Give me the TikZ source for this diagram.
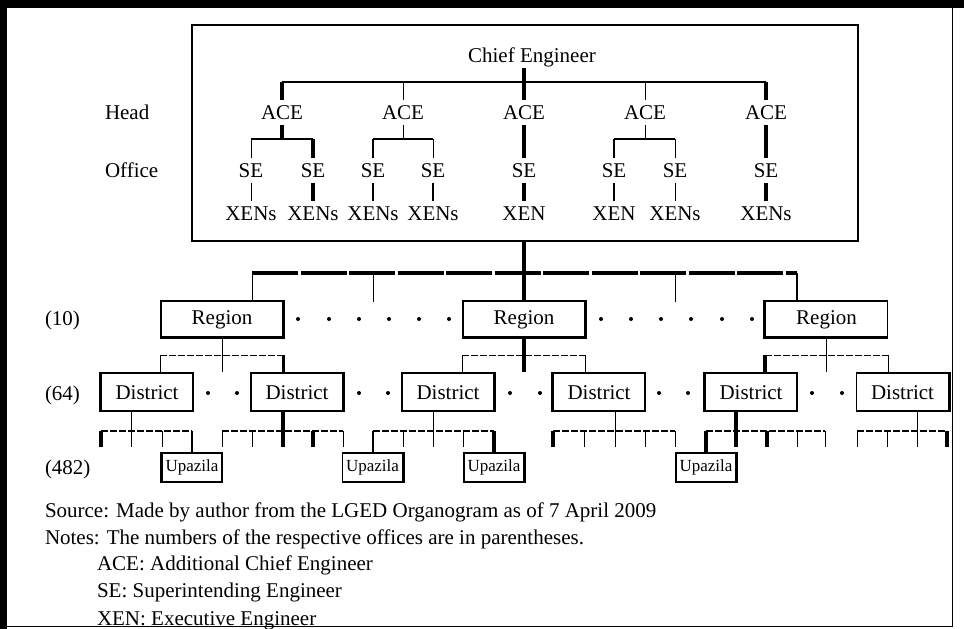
\documentclass[tikz,border=0pt]{standalone}
\usepackage{fontspec}
\setmainfont{Liberation Serif}

\begin{document}
\begin{tikzpicture}[x=1pt,y=-1pt,
	txt/.style={inner sep=0pt,outer sep=5.5pt,text height=14pt,text depth=0pt,font=\fontsize{21}{25}\selectfont},
	note/.style={inner sep=0pt,outer sep=0pt,anchor=base west,font=\fontsize{21}{25}\selectfont},
	regbox/.style={draw,line width=1.1pt,minimum width=122pt,minimum height=36pt,inner sep=0pt,text height=14pt,text depth=4pt,font=\fontsize{21}{25}\selectfont},
	distbox/.style={draw,line width=1.1pt,minimum width=92pt,minimum height=38pt,inner sep=0pt,text height=14pt,text depth=0pt,font=\fontsize{21}{25}\selectfont},
	upbox/.style={draw,line width=1.1pt,minimum width=60pt,minimum height=29pt,inner sep=0pt,text height=11.5pt,text depth=3.5pt,font=\fontsize{17}{20}\selectfont},
	fine/.style={line width=1pt},
	mid/.style={line width=2pt},
	heavy/.style={line width=3.5pt},
	shade/.style={line width=3pt},
	broken/.style={dash pattern=on 7pt off 2pt},
	mainbar/.style={line width=3.5pt,dash pattern=on 46pt off 2.5pt}]

		\useasboundingbox (0,0) rectangle (964,629);
		\fill (0,0) rectangle (964,7.5);
		\fill (0,0) rectangle (7,629);
		\draw[line width=1.2pt] (7,626.5) -- (952.5,626.5) -- (952.5,7);

		% head office
		\node[draw,line width=1.1pt,minimum width=666pt,minimum height=216pt] (hq) at (525,133) {};
		\node[txt,anchor=base] (ce) at (532,62.7) {Chief Engineer};
		\node[note] (head) at (105,119) {Head};
		\node[note] (office) at (105,177.5) {Office};

		\node[txt,anchor=base] (ace1) at (282,119) {ACE};
		\node[txt,anchor=base] (ace2) at (403,119) {ACE};
		\node[txt,anchor=base] (ace3) at (524,119) {ACE};
		\node[txt,anchor=base] (ace4) at (645,119) {ACE};
		\node[txt,anchor=base] (ace5) at (766,119) {ACE};

		\node[txt,anchor=base] (se1) at (251,177.5) {SE};
		\node[txt,anchor=base] (se2) at (313,177.5) {SE};
		\node[txt,anchor=base] (se3) at (373,177.5) {SE};
		\node[txt,anchor=base] (se4) at (433,177.5) {SE};
		\node[txt,anchor=base] (se5) at (524,177.5) {SE};
		\node[txt,anchor=base] (se6) at (614,177.5) {SE};
		\node[txt,anchor=base] (se7) at (675,177.5) {SE};
		\node[txt,anchor=base] (se8) at (766,177.5) {SE};

		\node[txt,anchor=base] (xen1) at (251,220) {XENs};
		\node[txt,anchor=base] (xen2) at (313,220) {XENs};
		\node[txt,anchor=base] (xen3) at (373,220) {XENs};
		\node[txt,anchor=base] (xen4) at (433,220) {XENs};
		\node[txt,anchor=base] (xen5) at (524,220) {XEN};
		\node[txt,anchor=base] (xen6) at (614,220) {XEN};
		\node[txt,anchor=base] (xen7) at (675,220) {XENs};
		\node[txt,anchor=base] (xen8) at (766,220) {XENs};

		\coordinate (bar0) at (0,82);
		\coordinate (bar1) at (0,139);

		\draw[heavy] (ace3 |- ce.south) -- (ace3 |- bar0);
		\draw[mid] (ace1 |- bar0) -- (ace5 |- bar0);
		\draw[heavy] (ace1 |- bar0) -- (ace1.north);
		\draw[fine] (ace2 |- bar0) -- (ace2.north);
		\draw[heavy] (ace3 |- bar0) -- (ace3.north);
		\draw[fine] (ace4 |- bar0) -- (ace4.north);
		\draw[heavy] (ace5 |- bar0) -- (ace5.north);

		\draw[heavy] (ace1.south) -- (ace1 |- bar1);
		\draw[mid] (se1 |- bar1) -- (se2 |- bar1);
		\draw[fine] (se1 |- bar1) -- (se1.north);
		\draw[heavy] (se2 |- bar1) -- (se2.north);
		\draw[fine] (ace2.south) -- (ace2 |- bar1);
		\draw[mid] (se3 |- bar1) -- (se4 |- bar1);
		\draw[mid] (se3 |- bar1) -- (se3.north);
		\draw[fine] (se4 |- bar1) -- (se4.north);
		\draw[heavy] (ace3.south) -- (se5.north);
		\draw[fine] (ace4.south) -- (ace4 |- bar1);
		\draw[mid] (se6 |- bar1) -- (se7 |- bar1);
		\draw[mid] (se6 |- bar1) -- (se6.north);
		\draw[fine] (se7 |- bar1) -- (se7.north);
		\draw[heavy] (ace5.south) -- (se8.north);

		\draw[fine] (se1.south) -- (xen1.north);
		\draw[heavy] (se2.south) -- (xen2.north);
		\draw[mid] (se3.south) -- (xen3.north);
		\draw[mid] (se4.south) -- (xen4.north);
		\draw[heavy] (se5.south) -- (xen5.north);
		\draw[mid] (se6.south) -- (xen6.north);
		\draw[fine] (se7.south) -- (xen7.north);
		\draw[heavy] (se8.south) -- (xen8.north);

		% regions
		\node[note] (n10) at (45,325) {(10)};
		\node[regbox] (r1) at (222,319) {Region};
		\node[regbox] (r2) at (524,319) {Region};
		\node[regbox] (r3) at (826.5,319) {Region};
		\draw[shade] (r1.north east) -- (r1.south east) -- (r1.south west);
		\draw[shade] (r2.north east) -- (r2.south east) -- (r2.south west);
		\draw[shade] (r3.north west) -- (r3.south west) -- (r3.south east);

		\coordinate (bar2) at (0,273);
		\coordinate (r1in) at ([xshift=30pt]r1.north);
		\coordinate (r3in) at ([xshift=-29.5pt]r3.north);
		\coordinate (g1) at (373,302);
		\coordinate (g2) at (675,302);

		\draw[heavy] (r2 |- hq.south) -- (r2.north);
		\draw[mainbar] (r1in |- bar2) -- (r3in |- bar2);
		\draw[fine] (r1in |- bar2) -- (r1in);
		\draw[fine] (g1 |- bar2) -- (g1);
		\draw[fine] (g2 |- bar2) -- (g2);
		\draw[mid] (r3in |- bar2) -- (r3in);

		\fill (298,319) circle (2) (329,319) circle (2) (359,319) circle (2)
			(389,319) circle (2) (419,319) circle (2) (449,319) circle (2);
		\fill (601,319) circle (2) (631,319) circle (2) (661,319) circle (2)
			(691,319) circle (2) (722,319) circle (2) (752,319) circle (2);

		% districts
		\node[note] (n64) at (45,400) {(64)};
		\node[distbox] (d1) at (147,392) {District};
		\node[distbox] (d2) at (297,392) {District};
		\node[distbox] (d3) at (448,392) {District};
		\node[distbox] (d4) at (599,392) {District};
		\node[distbox] (d5) at (751,392) {District};
		\node[distbox] (d6) at (902.5,392) {District};
		\draw[shade] (d1.north west) -- (d1.south west);
		\draw[shade] (d2.north east) -- (d2.south east);
		\draw[shade] (d3.north east) -- (d3.south east);
		\draw[shade] (d4.north west) -- (d4.south west);
		\draw[shade] (d5.north west) -- (d5.south west);
		\draw[shade] (d6.north east) -- (d6.south east);

		\coordinate (bar3) at (0,355);
		\draw[fine] (r1.south) -- (r1 |- d1.north);
		\draw[fine,broken] (r1.south west |- bar3) -- (r1.south east |- bar3);
		\draw[fine] (r1.south west |- bar3) -- (r1.south west |- d1.north);
		\draw[heavy] (r1.south east |- bar3) -- (r1.south east |- d2.north);
		\draw[heavy] (r2.south) -- (r2 |- d3.north);
		\draw[fine,broken] (r2.south west |- bar3) -- (r2.south east |- bar3);
		\draw[fine] (r2.south west |- bar3) -- (r2.south west |- d3.north);
		\draw[fine] (r2.south east |- bar3) -- (r2.south east |- d4.north);
		\draw[fine] (r3.south) -- (r3 |- d5.north);
		\draw[fine,broken] (r3.south west |- bar3) -- (r3.south east |- bar3);
		\draw[heavy] (r3.south west |- bar3) -- (r3.south west |- d5.north);
		\draw[fine] (r3.south east |- bar3) -- (r3.south east |- d6.north);

		\fill (208,393) circle (2) (237,393) circle (2);
		\fill (359,393) circle (2) (388,393) circle (2);
		\fill (510,393) circle (2) (540,393) circle (2);
		\fill (659,393) circle (2) (688,393) circle (2);
		\fill (812,393) circle (2) (842,393) circle (2);

		% upazilas
		\node[note] (n482) at (45,474) {(482)};
		\node[upbox] (u1) at (192,467.5) {Upazila};
		\node[upbox] (u2) at (372.5,467.5) {Upazila};
		\node[upbox] (u3) at (494,467.5) {Upazila};
		\node[upbox] (u4) at (706,467.5) {Upazila};
		\draw[shade] (u1.north west) -- (u1.south west);
		\draw[shade] (u2.north east) -- (u2.south east);
		\draw[shade] (u3.north east) -- (u3.south east);
		\draw[shade] (u4.north east) -- (u4.south east);

		\coordinate (bar4) at (0,431);
		\coordinate (d1a) at (101,447);
		\coordinate (d1b) at (131,447);
		\coordinate (d1c) at (162,447);
		\coordinate (d2a) at (222,447);
		\coordinate (d2b) at (252,447);
		\coordinate (d2c) at (283,447);
		\coordinate (d2d) at (313,447);
		\coordinate (d2e) at (343,447);
		\coordinate (d3b) at (403,447);
		\coordinate (d3c) at (433,447);
		\coordinate (d3d) at (463,447);
		\coordinate (d4a) at (553,447);
		\coordinate (d4b) at (584,447);
		\coordinate (d4c) at (615,447);
		\coordinate (d4d) at (645,447);
		\coordinate (d4e) at (675,447);
		\coordinate (d5b) at (736,447);
		\coordinate (d5c) at (767,447);
		\coordinate (d5d) at (797,447);
		\coordinate (d5e) at (825,447);
		\coordinate (d6a) at (857,447);
		\coordinate (d6b) at (887,447);
		\coordinate (d6c) at (917,447);
		\coordinate (d6d) at (947,447);

		\draw[mid,broken] (d1a |- bar4) -- (u1 |- bar4);
		\draw[fine] (d1b |- d1.south) -- (d1b);
		\draw[heavy] (d1a |- bar4) -- (d1a);
		\draw[fine] (d1c |- bar4) -- (d1c);
		\draw[mid] (u1 |- bar4) -- (u1.north);

		\draw[mid,broken] (d2a |- bar4) -- (d2e |- bar4);
		\draw[heavy] (d2c |- d2.south) -- (d2c);
		\draw[fine] (d2a |- bar4) -- (d2a);
		\draw[fine] (d2b |- bar4) -- (d2b);
		\draw[heavy] (d2d |- bar4) -- (d2d);
		\draw[fine] (d2e |- bar4) -- (d2e);

		\draw[mid,broken] (u2 |- bar4) -- (u3 |- bar4);
		\draw[fine] (d3c |- d3.south) -- (d3c);
		\draw[mid] (u2 |- bar4) -- (u2.north);
		\draw[fine] (d3b |- bar4) -- (d3b);
		\draw[fine] (d3d |- bar4) -- (d3d);
		\draw[heavy] (u3 |- bar4) -- (u3.north);

		\draw[mid,broken] (d4a |- bar4) -- (d4e |- bar4);
		\draw[fine] (d4c |- d4.south) -- (d4c);
		\draw[heavy] (d4a |- bar4) -- (d4a);
		\draw[fine] (d4b |- bar4) -- (d4b);
		\draw[fine] (d4d |- bar4) -- (d4d);
		\draw[fine] (d4e |- bar4) -- (d4e);

		\draw[mid,broken] (u4 |- bar4) -- (d5e |- bar4);
		\draw[heavy] (d5b |- d5.south) -- (d5b);
		\draw[heavy] (u4 |- bar4) -- (u4.north);
		\draw[heavy] (d5c |- bar4) -- (d5c);
		\draw[fine] (d5d |- bar4) -- (d5d);
		\draw[fine] (d5e |- bar4) -- (d5e);

		\draw[mid,broken] (d6a |- bar4) -- (d6d |- bar4);
		\draw[fine] (d6c |- d6.south) -- (d6c);
		\draw[fine] (d6a |- bar4) -- (d6a);
		\draw[fine] (d6b |- bar4) -- (d6b);
		\draw[heavy] (d6d |- bar4) -- (d6d);

		% notes
		\node[note] (src) at (45,517) {Source: Made by author from the LGED Organogram as of 7 April 2009};
		\node[note] (notes) at (45,544) {Notes: The numbers of the respective offices are in parentheses.};
		\node[note] (k1) at (97,570) {ACE: Additional Chief Engineer};
		\node[note] (k2) at (97,597) {SE: Superintending Engineer};
		\node[note] (k3) at (97,625) {XEN: Executive Engineer};

	\end{tikzpicture}
\end{document}
